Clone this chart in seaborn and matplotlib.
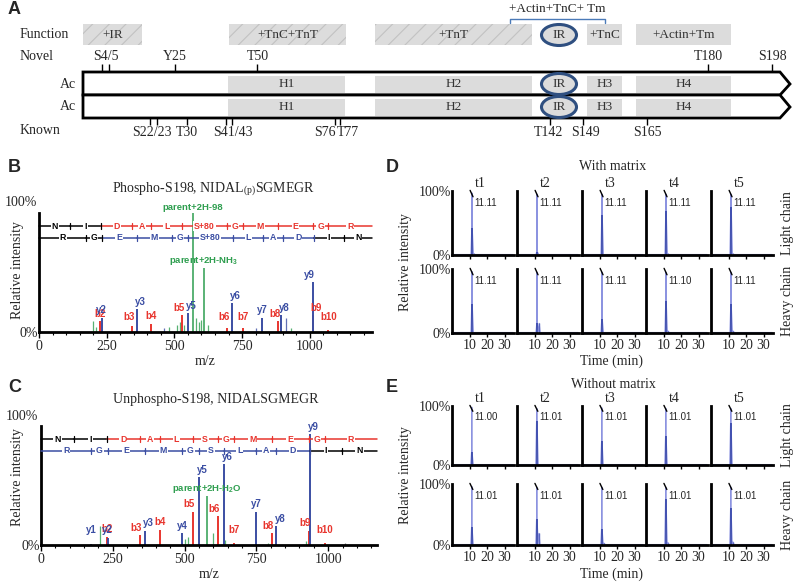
import numpy as np
import pandas as pd
import matplotlib
matplotlib.use("Agg")
import matplotlib.pyplot as plt
from matplotlib.patches import Rectangle, Ellipse, Polygon
from matplotlib.ticker import MultipleLocator
import seaborn as sns

sns.set_theme(style="white")
plt.rcParams['font.family'] = ['Liberation Serif', 'DejaVu Serif']
plt.rcParams['mathtext.fontset'] = 'stix'
plt.rcParams['hatch.linewidth'] = 0.8

W, H = 800, 586
RED = '#e8352e'
BLUE = '#3b4ea3'
GREEN = '#2e9e4f'
LIGHTBLUE = '#8c93e0'
SANS = ['Liberation Sans', 'DejaVu Sans']

# ---------------- panel A : schematic (track coordinates) ----------------
func_labels = ["+IR", "+TnC+TnT", "+TnT", "+TnC", "+Actin+Tm"]
func_start = [83, 229, 375, 587, 636]
func_end = [142, 346, 532, 622, 731]
func_hatched = [True, True, True, False, False]

domain_labels = ["H1", "H2", "H3", "H4"]
domain_start = [228, 375, 587, 636]
domain_end = [345, 532, 622, 731]
ir_center = 559

novel_ticks = [102, 109, 175, 257, 708, 772]
novel_labels = ["S4/5", "Y25", "T50", "T180", "S198"]
novel_label_pos = [106, 175, 258, 708, 772]

known_ticks = [150, 157, 187, 226, 232, 335, 340, 550, 583, 647]
known_labels = ["S22/23", "T30", "S41/43", "S76", "T77", "T142", "S149", "S165"]
known_label_pos = [152, 187, 233, 325, 348, 549, 586, 647]

# ---------------- panel B : phospho spectrum ----------------
b_phos_mz = [226, 344, 415, 528, 695, 752, 883, 1012, 1069]
b_phos_int = [9, 5, 7, 14, 3, 3, 9, 14, 2]
b_phos_lab = ["b2", "b3", "b4", "b5", "b6", "b7", "b8", "b9", "b10"]
y_phos_mz = [232, 361, 549, 712, 823, 893, 1011]
y_phos_int = [12, 19, 16, 24, 12, 14, 42]
y_phos_lab = ["y2", "y3", "y5", "y6", "y7", "y8", "y9"]
other_phos_mz = [199, 212, 460, 480, 510, 520, 535, 580, 590, 600, 625, 800, 911, 930]
other_phos_int = [9, 4, 3, 4, 6, 8, 6, 12, 8, 10, 6, 3, 12, 3]
other_phos_col = ['g', 'g', 'b', 'g', 'g', 'g', 'g', 'g', 'g', 'g', 'g', 'b', 'b', 'g']
parent_phos_mz = [568, 609]
parent_phos_int = [100, 54]
parent_phos_lab = ["parent+2H-98", "parent+2H-NH$_\\mathregular{3}$"]

phos_b_bounds = [0, 115, 229, 344, 415, 528, 695, 752, 883, 1012, 1069, 1230]
phos_b_res = ["N", "I", "D", "A", "L", "S+80", "G", "M", "E", "G", "R"]
phos_y_bounds = [0, 175, 232, 361, 492, 549, 716, 829, 900, 1015, 1128, 1230]
phos_y_res = ["R", "G", "E", "M", "G", "S+80", "L", "A", "D", "I", "N"]

# ---------------- panel C : unphospho spectrum ----------------
b_un_mz = [229, 344, 415, 528, 615, 672, 803, 932, 989]
b_un_int = [7, 8, 13, 28, 24, 2, 10, 12, 2]
b_un_lab = ["b2", "b3", "b4", "b5", "b6", "b7", "b8", "b9", "b10"]
y_un_mz = [175, 232, 361, 492, 549, 636, 749, 820, 935]
y_un_int = [1, 6, 12, 10, 57, 68, 28, 16, 93]
y_un_lab = ["y1", "y2", "y3", "y4", "y5", "y6", "y7", "y8", "y9"]
other_un_mz = [205, 503, 513, 600, 640, 790, 923, 1060]
other_un_int = [16, 5, 7, 10, 4, 2, 3, 2]
other_un_col = ['g', 'g', 'g', 'g', 'g', 'g', 'g', 'k']
parent_un_mz = [578]
parent_un_int = [41]
parent_un_lab = ["parent+2H-H$_\\mathregular{2}$O"]

un_b_bounds = [0, 115, 229, 344, 415, 528, 615, 672, 803, 932, 989, 1170]
un_b_res = ["N", "I", "D", "A", "L", "S", "G", "M", "E", "G", "R"]
un_y_bounds = [0, 175, 232, 361, 492, 549, 636, 749, 820, 935, 1048, 1170]
un_y_res = ["R", "G", "E", "M", "G", "S", "L", "A", "D", "I", "N"]

# ---------------- panels D / E : chromatograms ----------------
time_points = ["t1", "t2", "t3", "t4", "t5"]
with_light_rt = ["11.11", "11.11", "11.11", "11.11", "11.11"]
with_heavy_rt = ["11.11", "11.11", "11.11", "11.10", "11.11"]
without_light_rt = ["11.00", "11.01", "11.01", "11.01", "11.01"]
without_heavy_rt = ["11.01", "11.01", "11.01", "11.01", "11.01"]
with_light_top = [97, 95, 95, 95, 95]
with_heavy_top = [96, 95, 95, 95, 95]
without_light_top = [98, 96, 97, 96, 96]
without_heavy_top = [96, 95, 95, 95, 95]
with_light_inner = [42, 5, 62, 68, 75]
with_heavy_inner = [45, 15, 22, 50, 45]
without_light_inner = [22, 75, 40, 50, 72]
without_heavy_inner = [29, 43, 27, 75, 60]
with_light_tail = [2, 0, 0, 2, 2]
with_heavy_tail = [0, 15, 0, 3, 3]
without_light_tail = [0, 0, 0, 0, 0]
without_heavy_tail = [0, 19, 3, 4, 5]

fig = plt.figure(figsize=(8, 5.86), dpi=100)


def px_axes(x0, y0, x1, y1):
    return fig.add_axes([x0 / W, 1 - y1 / H, (x1 - x0) / W, (y1 - y0) / H])


ov = fig.add_axes([0, 0, 1, 1])
ov.set_xlim(0, W)
ov.set_ylim(H, 0)
ov.axis('off')
ov.patch.set_alpha(0)

# panel letters
for let, (lx, ly) in zip("ABCDE", [(8, 10), (8, 167), (8, 387), (386, 167), (386, 387)]):
    ov.text(lx, ly, let, fontsize=13, fontweight='bold', family=SANS, ha='left', va='center')

# ---- panel A ----
for lab, yy in [("Function", 35), ("Novel", 57), ("Known", 131)]:
    ov.text(20, yy, lab, fontsize=10, ha='left', va='center')
for s, e, lab, hat in zip(func_start, func_end, func_labels, func_hatched):
    ov.add_patch(Rectangle((s, 24), e - s, 21, facecolor='#dcdcdc',
                           edgecolor='#c2c2c2', lw=0, hatch='//' if hat else None))
    ov.text((s + e) / 2, 34.5, lab, fontsize=9.5, ha='center', va='center', color='#333333')
ov.plot([510, 510, 605, 605], [23, 19, 19, 23], color='#4a7ab8', lw=1)
ov.text(557, 9, "+Actin+TnC+ Tm", fontsize=9.5, ha='center', va='center')

for yc in (84, 107):
    ov.add_patch(Polygon([(83, yc - 12), (780, yc - 12), (790, yc), (780, yc + 11), (83, yc + 11)],
                         closed=True, facecolor='white', edgecolor='black', lw=2, zorder=2))
    for s, e, lab in zip(domain_start, domain_end, domain_labels):
        ov.add_patch(Rectangle((s, yc - 8), e - s, 17, facecolor='#dcdcdc', lw=0, zorder=3))
        ov.text((s + e) / 2, yc, lab, fontsize=9.5, ha='center', va='center', zorder=4, color='#333333')
    ov.text(76, yc, "Ac", fontsize=10, ha='right', va='center')
for yc in (35, 84, 107):
    ov.add_patch(Ellipse((ir_center, yc), 35, 21, facecolor='#dcdcdc', edgecolor='#2f4f80', lw=2.2, zorder=5))
    ov.text(ir_center, yc, "IR", fontsize=9.5, ha='center', va='center', zorder=6, color='#333333')

ov.vlines(novel_ticks, 64, 72, color='black', lw=1)
for lab, xx in zip(novel_labels, novel_label_pos):
    ov.text(xx, 57, lab, fontsize=10, ha='center', va='center')
ov.vlines(known_ticks, 118, 125, color='black', lw=1)
for lab, xx in zip(known_labels, known_label_pos):
    ov.text(xx, 132, lab, fontsize=10, ha='center', va='center')


# ---- spectra ----
def ladder(ax, bounds, residues, lo, hi, yy, color):
    for i, r in enumerate(residues):
        c = color if lo <= i < hi else 'black'
        ax.plot([bounds[i], bounds[i + 1]], [yy, yy], color=c, lw=1.1, clip_on=False, zorder=3)
        ax.text((bounds[i] + bounds[i + 1]) / 2, yy, r, color=c, ha='center', va='center',
                fontsize=6.3, fontweight='bold', family=SANS, zorder=4,
                bbox=dict(boxstyle='square,pad=0.1', fc='white', ec='none'))
    for i in range(1, len(bounds) - 1):
        c = color if lo < i <= hi else 'black'
        ax.plot([bounds[i]] * 2, [yy - 2.5, yy + 2.5], color=c, lw=0.9, zorder=5, clip_on=False)


def spectrum(box, xmax, title, title_xy, ylab_xy, top_xy, bmz, bint, blab, ymz, yint, ylab,
             omz, oint, ocol, pmz, pint, plab, bb, br, blo, bhi, yb, yr, ylo, yhi):
    ax = px_axes(*box)
    ax.set_xlim(0, xmax)
    ax.set_ylim(0, 100)
    cmap = {'g': GREEN, 'b': BLUE, 'k': '#555555'}
    ax.vlines(omz, 0, oint, colors=[cmap[c] for c in ocol], lw=0.9, alpha=0.8)
    ax.vlines(pmz, 0, pint, colors=GREEN, lw=1.1, clip_on=False)
    ax.vlines(bmz, 0, bint, colors=RED, lw=1.4)
    ax.vlines(ymz, 0, yint, colors=BLUE, lw=1.4)
    # nudge b / y labels apart when their peaks sit close together
    for m, h, l in zip(bmz, bint, blab):
        near = [ym for ym in ymz if 0 < abs(ym - m) < 30 and l != "b2"]
        dx = -12 if near and near[0] > m else (12 if near else 0)
        ax.text(m + dx, max(h, 6) + 2, l, color=RED, fontsize=7, fontweight='bold', family=SANS,
                ha='center', va='bottom')
    for m, h, l in zip(ymz, yint, ylab):
        near = [bm for bm in bmz if 0 < abs(bm - m) < 30 and l != "y2"]
        dx = 12 if near and near[0] < m else (-12 if near else 0)
        ax.text(m + dx, max(h, 6) + 2, l, color=BLUE, fontsize=7, fontweight='bold', family=SANS,
                ha='center', va='bottom')
    for m, h, l in zip(pmz, pint, plab):
        ax.text(m, h + 1, l, color=GREEN, fontsize=6.8, fontweight='bold', family=SANS,
                ha='center', va='bottom', clip_on=False)
    ladder(ax, bb, br, blo, bhi, 89, RED)
    ladder(ax, yb, yr, ylo, yhi, 79, BLUE)
    sns.despine(ax=ax)
    for sp in ('left', 'bottom'):
        ax.spines[sp].set_linewidth(2)
        ax.spines[sp].set_color('black')
    ax.set_xticks([0, 250, 500, 750, 1000])
    ax.xaxis.set_minor_locator(MultipleLocator(50))
    ax.tick_params(axis='x', which='major', length=4, width=1, direction='out', bottom=True,
                   labelsize=10, pad=2, color='black')
    ax.tick_params(axis='x', which='minor', length=2.5, width=0.8, direction='out', bottom=True, color='black')
    ax.set_yticks([0])
    ax.set_yticklabels(["0%"])
    ax.tick_params(axis='y', length=0, labelsize=10, pad=1)
    ax.set_xlabel("m/z", fontsize=10, labelpad=1)
    ax.set_ylabel('')
    ax.patch.set_alpha(0)
    ov.text(top_xy[0], top_xy[1], "100%", fontsize=10, ha='right', va='center')
    ov.text(title_xy[0], title_xy[1], title, fontsize=10, ha='center', va='center')
    ov.text(ylab_xy[0], ylab_xy[1], "Relative intensity", fontsize=10, rotation=90,
            ha='center', va='center')
    return ax


spectrum((39, 213, 372, 332), 1230, "Phospho-S198, NIDAL$_\\mathregular{(p)}$SGMEGR",
         (214, 189), (18, 270), (37, 203),
         b_phos_mz, b_phos_int, b_phos_lab, y_phos_mz, y_phos_int, y_phos_lab,
         other_phos_mz, other_phos_int, other_phos_col, parent_phos_mz, parent_phos_int,
         parent_phos_lab, phos_b_bounds, phos_b_res, 2, 11, phos_y_bounds, phos_y_res, 2, 9)
spectrum((41, 426, 377, 545), 1170, "Unphospho-S198, NIDALSGMEGR",
         (216, 399), (18, 477), (38, 417),
         b_un_mz, b_un_int, b_un_lab, y_un_mz, y_un_int, y_un_lab,
         other_un_mz, other_un_int, other_un_col, parent_un_mz, parent_un_int,
         parent_un_lab, un_b_bounds, un_b_res, 2, 11, un_y_bounds, un_y_res, 0, 9)

# ---- chromatograms ----
cols_left = [452, 517, 582, 646, 711]


def chrom_block(rows, rts, tops, inners, tails, title, title_y, head_y, xlab_y):
    for r, (y0, y1) in enumerate(rows):
        for c in range(5):
            ax = px_axes(cols_left[c], y0, cols_left[c] + 62, y1)
            rt = float(rts[r][c])
            top, inner, tail = tops[r][c], inners[r][c], tails[r][c]
            trace = pd.DataFrame({
                'time': [0, rt - 0.6, rt - 0.15, rt, rt + 0.15, rt + 0.8, rt + 1.3, rt + 1.8, 35],
                'intensity': [0.8, 0.8, inner, top, inner, 2, tail, 0.8, 0.8]})
            sns.lineplot(data=trace, x='time', y='intensity', ax=ax, color=LIGHTBLUE, lw=0.8,
                         estimator=None, sort=False)
            ax.vlines(rt, 0, inner, color='#3444a8', lw=1.2)
            if tail > 0:
                ax.vlines(rt + 1.3, 0, tail, color='#5a66c0', lw=1.0)
            ax.plot([rt - 1.1, rt + 0.6], [101, 91], color='black', lw=1, clip_on=False)
            ax.text(rt + 1.6, 81, rts[r][c], fontsize=7, family=SANS, ha='left', va='center')
            ax.set_xlim(-0.5, 35.5)
            ax.set_ylim(0, 100)
            sns.despine(ax=ax)
            for sp in ('left', 'bottom'):
                ax.spines[sp].set_linewidth(2)
                ax.spines[sp].set_color('black')
            ax.set_xticks([10, 20, 30])
            ax.tick_params(axis='x', length=3, width=1, direction='out', bottom=True,
                           labelsize=10, pad=1.5, color='black', labelbottom=(r == 1))
            ax.set_xlabel('')
            ax.set_ylabel('')
            if c == 0:
                ax.set_yticks([0, 100])
                ax.set_yticklabels(["0%", "100%"])
                ax.tick_params(axis='y', length=0, labelsize=10, pad=1)
            else:
                ax.set_yticks([])
            if r == 0:
                ax.text(0.45, 1.02, time_points[c], transform=ax.transAxes, fontsize=10,
                        ha='center', va='bottom')
    ov.text(613, title_y, title, fontsize=10, ha='center', va='center')
    ov.text(611, xlab_y, "Time (min)", fontsize=10, ha='center', va='center')
    ov.text(405, (rows[0][0] + rows[1][1]) / 2, "Relative intensity", fontsize=10,
            rotation=90, ha='center', va='center')
    for (y0, y1), lab in zip(rows, ["Light chain", "Heavy chain"]):
        ov.text(788, (y0 + y1) / 2, lab, fontsize=10, rotation=90, ha='center', va='center')


chrom_block([(191, 255), (269, 333)], [with_light_rt, with_heavy_rt],
            [with_light_top, with_heavy_top], [with_light_inner, with_heavy_inner],
            [with_light_tail, with_heavy_tail], "With matrix", 166, 180, 361)
chrom_block([(406, 465), (484, 545)], [without_light_rt, without_heavy_rt],
            [without_light_top, without_heavy_top], [without_light_inner, without_heavy_inner],
            [without_light_tail, without_heavy_tail], "Without matrix", 385, 399, 574)

fig.savefig("out.png", dpi=100)
